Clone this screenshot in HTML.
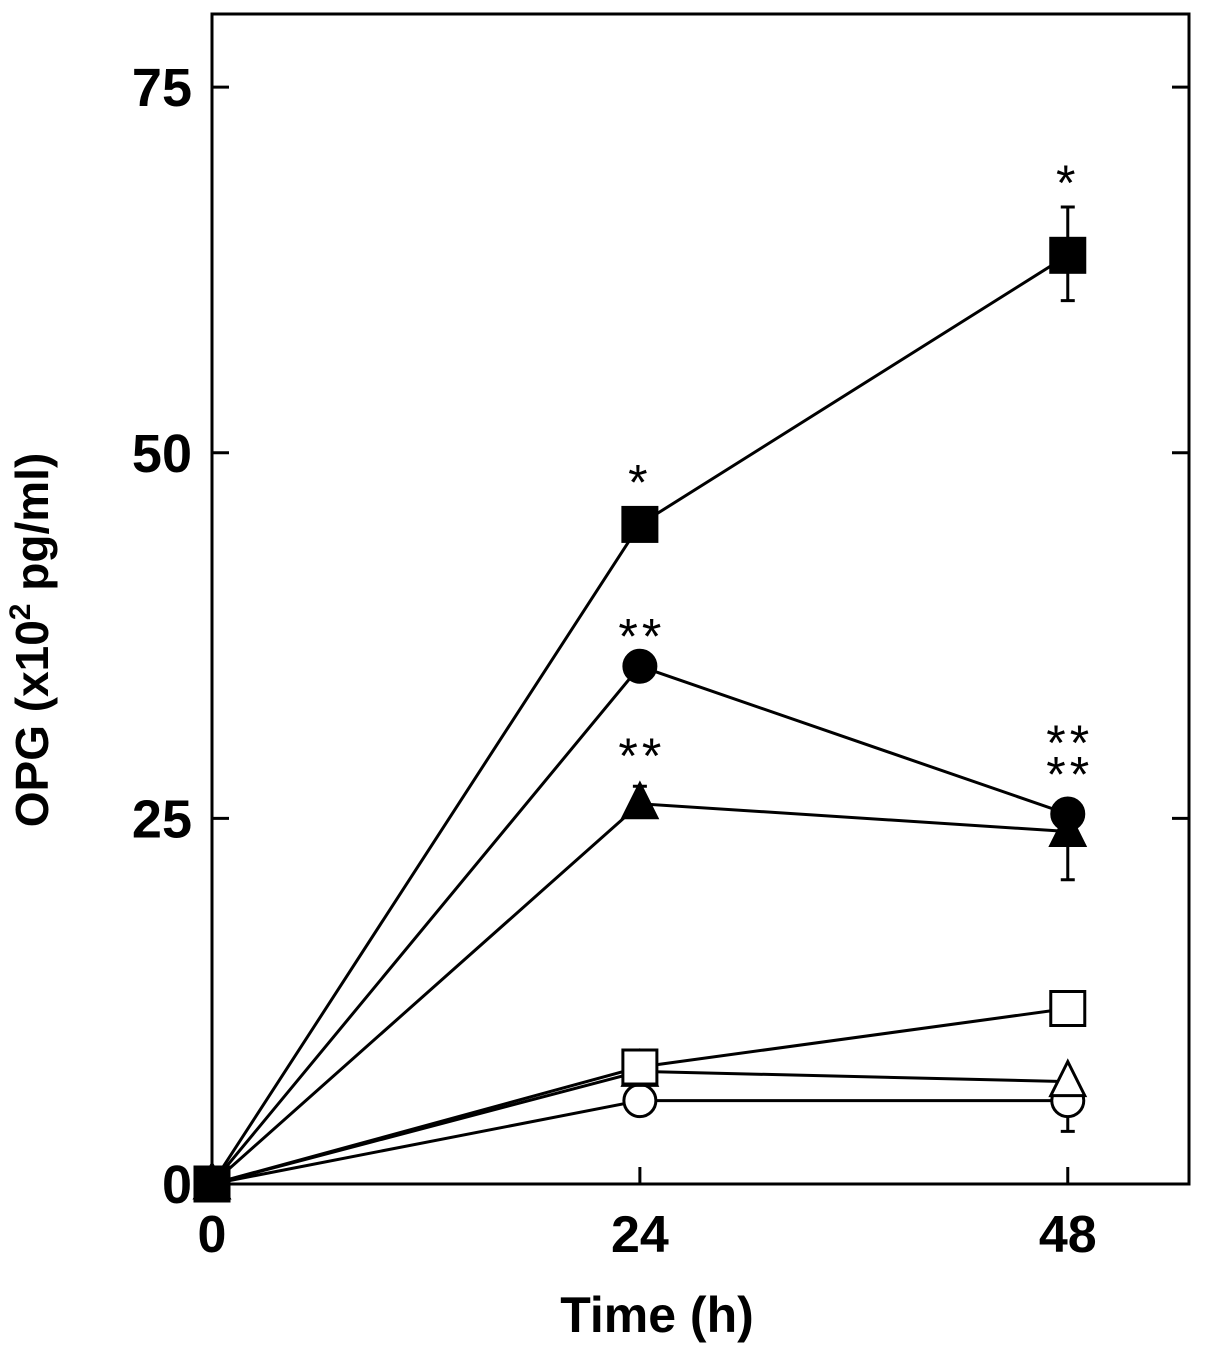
<!DOCTYPE html>
<html><head><meta charset="utf-8"><style>
body{margin:0;background:#fff;}
svg{display:block;font-family:"Liberation Sans",Arial,sans-serif;font-weight:bold;}
</style></head><body>
<svg id="chart" width="1205" height="1357" viewBox="0 0 1205 1357">
<g id="axes"></g>
<g id="series"></g>
<text x="48" y="640" font-size="46" text-anchor="middle" transform="rotate(-90 48 640)">OPG (x10<tspan font-size="30" dy="-18">2</tspan><tspan dy="18"> pg/ml)</tspan></text>
<text x="657" y="1332" font-size="50" text-anchor="middle">Time (h)</text>
</svg>
<script>
const xTicks=[0,24,48];
const yTicks=[0,25,50,75];
const times=[0,24,48];
const seriesNames=["filled-square","filled-circle","filled-triangle","open-square","open-triangle","open-circle"];
const sqF=[0,45.1,63.5];
const ciF=[0,35.4,25.3];
const trF=[0,26.0,24.1];
const sqO=[0,8.0,12.0];
const trO=[0,7.7,7.0];
const ciO=[0,5.7,5.7];
const errUp=[[0,0,3.3],[0,0,0],[0,1.2,0],[0,0,0],[0,0,0],[0,0,0]];
const errDown=[[0,0,3.1],[0,0,0],[0,0,3.3],[0,0,0],[0,0,0],[0,0,2.1]];
const stars=[["","*","*"],["","**","**"],["","**","**"],["","",""],["","",""],["","",""]];
const L=212,R=1189,T=14,B=1184,XMAX=54.8,YMAX=80;
const X=v=>L+v/XMAX*(R-L);
const Y=v=>B-v/YMAX*(B-T);
const NS="http://www.w3.org/2000/svg";
function mk(tag,attrs,parent){const e=document.createElementNS(NS,tag);for(const k in attrs)e.setAttribute(k,attrs[k]);parent.appendChild(e);return e;}
const ax=document.getElementById('axes');
let f=mk('rect',{x:L,y:T,width:R-L,height:B-T,fill:'none',stroke:'#000','stroke-width':3},ax);


yTicks.forEach(v=>{
 let t=mk('line',{x1:L,x2:L+17,y1:Y(v),y2:Y(v),stroke:'#000','stroke-width':3},ax);
 
 
 let t2=mk('line',{x1:R,x2:R-17,y1:Y(v),y2:Y(v),stroke:'#000','stroke-width':3},ax);
 
 
 let l=mk('text',{x:L-20,y:Y(v)+19,'font-size':54,'text-anchor':'end'},ax);l.textContent=v;
 
 
});
xTicks.forEach(v=>{
 let t=mk('line',{x1:X(v),x2:X(v),y1:B,y2:B-17,stroke:'#000','stroke-width':3},ax);
 
 
 let l=mk('text',{x:X(v),y:B+68,'font-size':52,'text-anchor':'middle'},ax);l.textContent=v;
 
 
});
const sg=document.getElementById('series');
const data=[sqF,ciF,trF,sqO,trO,ciO];
const shapes=['sq','ci','tr','sq','tr','ci'];
const fills=['#000','#000','#000','#fff','#fff','#fff'];
data.forEach((d,i)=>{
 let p=mk('polyline',{points:d.map((v,j)=>X(times[j])+','+Y(v)).join(' '),fill:'none',stroke:'#000','stroke-width':3},sg);
 
 
});
data.forEach((d,i)=>{d.forEach((v,j)=>{
 [[errUp[i][j],1],[errDown[i][j],-1]].forEach(([e,s])=>{
  if(!e)return;
  const x=X(times[j]),y2=Y(v+s*e);
  let g=mk('path',{d:`M${x},${Y(v)}V${y2}M${x-7},${y2}H${x+7}`,stroke:'#000','stroke-width':3,fill:'none'},sg);
  
  
 });
});});
for(let i=data.length-1;i>=0;i--){data[i].forEach((v,j)=>{
 const x=X(times[j]),y=Y(v);let m;
 if(shapes[i]==='sq')m=mk('rect',{x:x-17,y:y-17,width:34,height:34,fill:fills[i],stroke:'#000','stroke-width':3},sg);
 else if(shapes[i]==='ci')m=mk('circle',{cx:x,cy:y,r:16,fill:fills[i],stroke:'#000','stroke-width':3},sg);
 else m=mk('polygon',{points:`${x},${y-20} ${x-17},${y+14} ${x+17},${y+14}`,fill:fills[i],stroke:'#000','stroke-width':3},sg);
 
 
});}
const starOff=[[0,-25,-7],[0,-13,-54],[0,-13,-40]];
data.forEach((d,i)=>{d.forEach((v,j)=>{
 const s=stars[i][j];if(!s)return;
 const top=v+errUp[i][j];
 let t=mk('text',{x:X(times[j])+(s.length>1?2:0),y:Y(top)+starOff[i][j],'font-size':50,'font-weight':'normal','letter-spacing':4,'text-anchor':'middle'},sg);
 t.textContent=s;
 
 
});});
</script>
</body></html>
